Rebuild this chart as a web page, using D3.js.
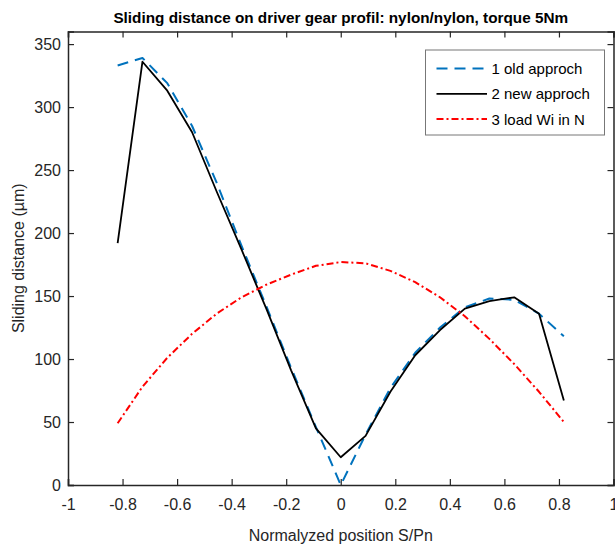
<!DOCTYPE html>
<html>
<head>
<meta charset="utf-8">
<script src="https://cdn.jsdelivr.net/npm/d3@7"></script>
<style>
  html, body { margin: 0; padding: 0; background: #fff; }
  svg { display: block; font-family: "Liberation Sans", Arial, Helvetica, sans-serif; }
</style>
</head>
<body>
<svg id="chart" width="615" height="547"></svg>
<script>
// ---- data ----
const xPos = [-0.818, -0.727, -0.636, -0.545, -0.455, -0.364, -0.273, -0.182, -0.091, 0, 0.091, 0.182, 0.273, 0.364, 0.455, 0.545, 0.636, 0.727, 0.818];
const oldApproach = [333, 339, 319, 285, 240, 190, 142, 93, 46, 0, 40, 77, 105, 125, 141, 148, 147, 136, 118];
const newApproach = [192, 336, 313, 280, 233, 187, 140, 91, 45, 22, 39, 74, 103, 123, 140, 146, 149, 136, 67];
const loadWi = [49, 78, 101, 120, 136, 149, 159, 167, 174, 177, 176, 170, 161, 149, 134, 116, 96, 74, 50];
const seriesNames = ["1 old approch", "2 new approch", "3 load Wi in N"];
const xTicks = [-1, -0.8, -0.6, -0.4, -0.2, 0, 0.2, 0.4, 0.6, 0.8, 1];
const yTicks = [0, 50, 100, 150, 200, 250, 300, 350];
const title = "Sliding distance on driver gear profil: nylon/nylon, torque 5Nm";
const xLabel = "Normalyzed position S/Pn";
const yLabel = "Sliding distance (\u00b5m)";

(function () {
const svg = d3.select("#chart");
const mLeft = 68, mRight = 613.5, mTop = 31.5, mBottom = 485;
const x = d3.scaleLinear().domain([-1, 1]).range([mLeft, mRight]);
const y = d3.scaleLinear().domain([0, 360]).range([mBottom, mTop]);
const axisColor = "#262626";

const styles = [
  { color: "#0072BD", dash: "11,7", width: 2 },
  { color: "#000000", dash: null, width: 1.8 },
  { color: "#FF0000", dash: "7,3,2,3", width: 2 }
];
const allSeries = [oldApproach, newApproach, loadWi];

// lines
const line = d3.line().x((d, i) => x(xPos[i])).y(d => y(d));
allSeries.forEach((s, i) => {
  svg.append("path")
    .datum(s)
    .attr("d", line)
    .attr("fill", "none")
    .attr("stroke", styles[i].color)
    .attr("stroke-width", styles[i].width)
    .attr("stroke-dasharray", styles[i].dash)
    .attr("stroke-linejoin", "round");
});

// axes
const fmt = d => String(d);
const gx = svg.append("g").attr("transform", `translate(0,${mBottom})`)
  .call(d3.axisBottom(x).tickValues(xTicks).tickSize(-6).tickPadding(14).tickFormat(fmt));
const gxTop = svg.append("g").attr("transform", `translate(0,${mTop})`)
  .call(d3.axisTop(x).tickValues(xTicks).tickSize(-6).tickFormat(""));
const gy = svg.append("g").attr("transform", `translate(${mLeft},0)`)
  .call(d3.axisLeft(y).tickValues(yTicks).tickSize(-6).tickPadding(7).tickFormat(fmt));
const gyRight = svg.append("g").attr("transform", `translate(${mRight},0)`)
  .call(d3.axisRight(y).tickValues(yTicks).tickSize(-6).tickFormat(""));

[gx, gxTop, gy, gyRight].forEach(g => {
  g.selectAll("path.domain").attr("stroke", axisColor).attr("stroke-width", 1.5);
  g.selectAll(".tick line").attr("stroke", axisColor).attr("stroke-width", 1.2);
  g.selectAll(".tick text").attr("fill", axisColor).attr("font-size", 16)
    .attr("font-family", '"Liberation Sans", Arial, sans-serif');
});

// title and labels
svg.append("text").attr("x", (mLeft + mRight) / 2).attr("y", 23)
  .attr("text-anchor", "middle").attr("font-weight", "bold").attr("font-size", 15.3)
  .attr("fill", "#000").text(title);
svg.append("text").attr("x", (mLeft + mRight) / 2).attr("y", 541)
  .attr("text-anchor", "middle").attr("font-size", 16).attr("fill", axisColor).text(xLabel);
svg.append("text").attr("transform", `translate(24,${(mTop + mBottom) / 2}) rotate(-90)`)
  .attr("text-anchor", "middle").attr("font-size", 16).attr("fill", axisColor).text(yLabel);

// legend
const lg = svg.append("g");
lg.append("rect").attr("x", 425.5).attr("y", 50).attr("width", 179).attr("height", 85)
  .attr("fill", "#fff").attr("stroke", "#777").attr("stroke-width", 1);
seriesNames.forEach((name, i) => {
  const ly = 68.5 + i * 25.3;
  lg.append("line").attr("x1", 436.5).attr("x2", 487).attr("y1", ly).attr("y2", ly)
    .attr("stroke", styles[i].color).attr("stroke-width", styles[i].width)
    .attr("stroke-dasharray", styles[i].dash);
  lg.append("text").attr("x", 491.5).attr("y", ly + 5.5).attr("font-size", 15)
    .attr("fill", "#000").text(name);
});
})();
</script>
</body>
</html>
